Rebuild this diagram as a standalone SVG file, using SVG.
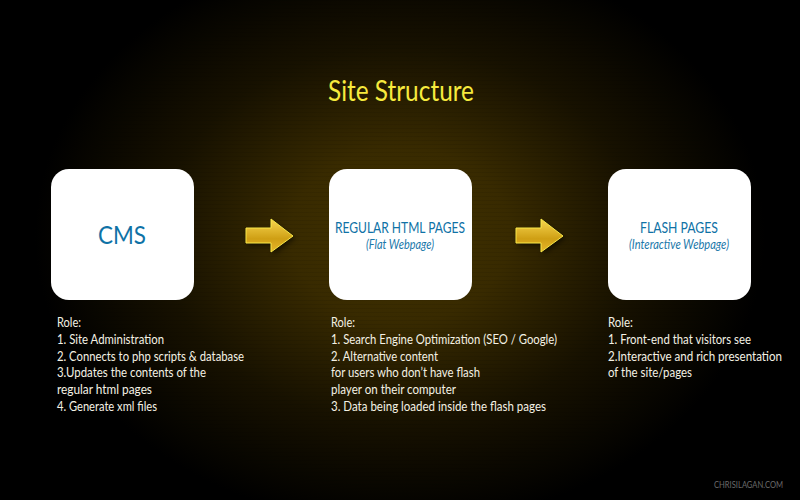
<svg xmlns="http://www.w3.org/2000/svg" width="800" height="500" viewBox="0 0 800 500">
<defs>
<radialGradient id="glow" gradientUnits="userSpaceOnUse" cx="0" cy="0" r="1" gradientTransform="translate(400 235) scale(365 290)">
<stop offset="0" stop-color="#413200"/>
<stop offset=".3" stop-color="#382a00"/>
<stop offset=".65" stop-color="#171100"/>
<stop offset="1" stop-color="#000"/>
</radialGradient>
<pattern id="grain" width="8" height="4" patternUnits="userSpaceOnUse">
<rect y="0" width="8" height="1" fill="#000" opacity=".07"/>
</pattern>
<linearGradient id="gold" x1="0" y1="0" x2="0" y2="1">
<stop offset="0" stop-color="#f7d650"/>
<stop offset=".6" stop-color="#cf9f14"/>
<stop offset="1" stop-color="#e8b62c"/>
</linearGradient>
<filter id="soft" x="-30%" y="-30%" width="160%" height="160%"><feGaussianBlur stdDeviation="2.5"/></filter>
<path id="arrow" d="M246 228H271V219L293 236L271 252V243H246Z"/>
<style>
.box{fill:#fff}
.head{fill:#0f72a6;font-family:Lato,"Open Sans","Liberation Sans",sans-serif;text-anchor:middle}
.sub{fill:#1a78aa;font-family:Lato,"Open Sans","Liberation Sans",sans-serif;font-style:italic;font-size:12.5px;text-anchor:middle}
.role{fill:#f4f1e4;font-family:Lato,"Open Sans","Liberation Sans",sans-serif;font-size:12.8px}
.shadow{fill:#000;opacity:.5;filter:url(#soft)}
.arr{fill:url(#gold);stroke:#f8e848;stroke-width:1}
</style>
</defs>
<rect width="800" height="500" fill="url(#glow)"/>
<rect width="800" height="500" fill="url(#grain)"/>
<text x="328" y="101" textLength="146" lengthAdjust="spacingAndGlyphs" font-family="Lato,'Open Sans','Liberation Sans',sans-serif" font-size="29.5" fill="#f6ea3e">Site Structure</text>
<g id="connectors">
<g id="arrow-1"><use href="#arrow" class="shadow" x="2" y="3"/><use href="#arrow" class="arr"/></g>
<g id="arrow-2"><use href="#arrow" class="shadow" x="272" y="3"/><use href="#arrow" class="arr" x="270"/></g>
</g>
<g id="node-cms">
<rect class="box" x="51" y="169" width="143" height="131" rx="18"/>
<text class="head" x="122" y="244" font-size="25" textLength="48" lengthAdjust="spacingAndGlyphs">CMS</text>
<g class="role">
<text x="57" y="327" textLength="24" lengthAdjust="spacingAndGlyphs">Role:</text>
<text x="57" y="343.8" textLength="107" lengthAdjust="spacingAndGlyphs">1. Site Administration</text>
<text x="57" y="360.6" textLength="187" lengthAdjust="spacingAndGlyphs">2. Connects to php scripts &amp; database</text>
<text x="57" y="377.4" textLength="149" lengthAdjust="spacingAndGlyphs">3.Updates the contents of the</text>
<text x="57" y="394.2" textLength="95" lengthAdjust="spacingAndGlyphs">regular html pages</text>
<text x="57" y="411" textLength="100" lengthAdjust="spacingAndGlyphs">4. Generate xml files</text>
</g>
</g>
<g id="node-html">
<rect class="box" x="329" y="169" width="143" height="131" rx="18"/>
<text class="head" x="400" y="232.5" font-size="16" textLength="130" lengthAdjust="spacingAndGlyphs">REGULAR HTML PAGES</text>
<text class="sub" x="400" y="249" textLength="68" lengthAdjust="spacingAndGlyphs">(Flat Webpage)</text>
<g class="role">
<text x="331" y="327" textLength="24" lengthAdjust="spacingAndGlyphs">Role:</text>
<text x="331" y="343.8" textLength="226" lengthAdjust="spacingAndGlyphs">1. Search Engine Optimization (SEO / Google)</text>
<text x="331" y="360.6" textLength="107" lengthAdjust="spacingAndGlyphs">2. Alternative content</text>
<text x="331" y="377.4" textLength="149" lengthAdjust="spacingAndGlyphs">for users who don’t have flash</text>
<text x="331" y="394.2" textLength="125" lengthAdjust="spacingAndGlyphs">player on their computer</text>
<text x="331" y="411" textLength="215" lengthAdjust="spacingAndGlyphs">3. Data being loaded inside the flash pages</text>
</g>
</g>
<g id="node-flash">
<rect class="box" x="608" y="169" width="143" height="131" rx="18"/>
<text class="head" x="679" y="232.5" font-size="16" textLength="78" lengthAdjust="spacingAndGlyphs">FLASH PAGES</text>
<text class="sub" x="679" y="249" textLength="100" lengthAdjust="spacingAndGlyphs">(Interactive Webpage)</text>
<g class="role">
<text x="608" y="327" textLength="25" lengthAdjust="spacingAndGlyphs">Role:</text>
<text x="608" y="343.8" textLength="143" lengthAdjust="spacingAndGlyphs">1. Front-end that visitors see</text>
<text x="608" y="360.6" textLength="174" lengthAdjust="spacingAndGlyphs">2.Interactive and rich presentation</text>
<text x="608" y="377.4" textLength="84" lengthAdjust="spacingAndGlyphs">of the site/pages</text>
</g>
</g>
<text x="714" y="488" textLength="69" lengthAdjust="spacingAndGlyphs" font-family="Lato,'Open Sans','Liberation Sans',sans-serif" font-size="9" fill="#6a6a6a">CHRISILAGAN.COM</text>
</svg>
